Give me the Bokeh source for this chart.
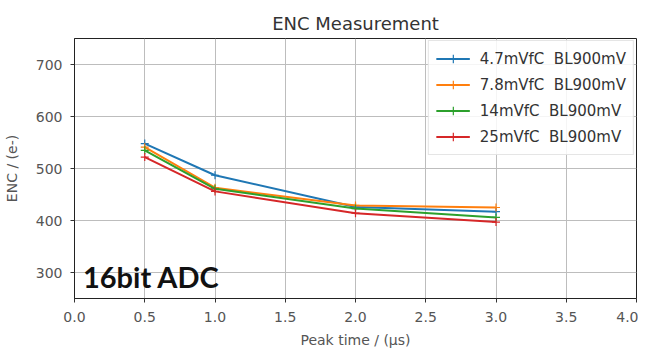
from bokeh.plotting import figure
from bokeh.models import FixedTicker, Legend, LegendItem, Label, CustomJSTickFormatter
from bokeh.embed import file_html
from bokeh.resources import INLINE

peak_time = [0.5, 1.0, 2.0, 3.0]
enc_47 = [548, 487, 426, 417]
enc_78 = [541, 463, 429, 425]
enc_14 = [535, 461, 423, 406]
enc_25 = [522, 456, 414, 397]
labels = ["4.7mVfC  BL900mV", "7.8mVfC  BL900mV", "14mVfC  BL900mV", "25mVfC  BL900mV"]
colors = ["#1f77b4", "#ff7f0e", "#2ca02c", "#d62728"]
x_ticks = [0.0, 0.5, 1.0, 1.5, 2.0, 2.5, 3.0, 3.5, 4.0]
y_ticks = [300, 400, 500, 600, 700]

FONT = "DejaVu Sans"

p = figure(width=638, height=350, x_range=(0, 4), y_range=(250, 750),
           output_backend="svg", toolbar_location=None,
           title="ENC Measurement",
           min_border_left=74, min_border_right=2, min_border_top=38, min_border_bottom=52)

p.title.align = "center"
p.title.text_font = FONT
p.title.text_font_size = "18px"
p.title.text_font_style = "normal"
p.title.text_color = "#333333"
p.title.standoff = 9

p.outline_line_color = "#222222"
p.outline_line_width = 1

for ax in (p.xaxis[0], p.yaxis[0]):
    ax.major_label_text_font = FONT
    ax.major_label_text_font_size = "14px"
    ax.major_label_text_color = "#555555"
    ax.axis_label_text_font = FONT
    ax.axis_label_text_font_size = "14px"
    ax.axis_label_text_font_style = "normal"
    ax.axis_label_text_color = "#555555"
    ax.minor_tick_line_color = None
    ax.major_tick_out = 4
    ax.major_tick_in = 0
    ax.major_tick_line_color = "#333333"
    ax.axis_line_color = "#222222"

p.xaxis.ticker = FixedTicker(ticks=x_ticks)
p.xaxis.formatter = CustomJSTickFormatter(code="return tick.toFixed(1);")
p.yaxis.ticker = FixedTicker(ticks=y_ticks)
p.xaxis.axis_label = "Peak time / (µs)"
p.yaxis.axis_label = "ENC / (e-)"
p.xaxis.major_label_standoff = 9
p.yaxis.major_label_standoff = 8
p.xaxis.axis_label_standoff = 7
p.yaxis.axis_label_standoff = 13

p.xgrid.grid_line_color = "#bdbdbd"
p.ygrid.grid_line_color = "#bdbdbd"
p.xgrid.grid_line_width = 1
p.ygrid.grid_line_width = 1

items = []
for series, lab, col in zip([enc_47, enc_78, enc_14, enc_25], labels, colors):
    ln = p.line(peak_time, series, line_color=col, line_width=2)
    mk = p.scatter(peak_time, series, marker="cross", size=8,
                   line_color=col, line_width=1.2)
    items.append(LegendItem(label=lab, renderers=[ln, mk]))

legend = Legend(items=items, location="top_right",
                label_text_font=FONT, label_text_font_size="15px",
                label_text_color="#333333",
                glyph_width=34, glyph_height=21, label_standoff=10,
                spacing=5, padding=7, margin=2,
                border_line_color="#cccccc", border_line_width=1,
                background_fill_alpha=0.85)
p.add_layout(legend)

p.add_layout(Label(x=0.06, y=258, text="16bit ADC", text_font="Lato",
                   text_font_style="bold", text_font_size="29px",
                   text_color="#111111", text_baseline="bottom"))

open("out.html", "w").write(file_html(p, INLINE))
